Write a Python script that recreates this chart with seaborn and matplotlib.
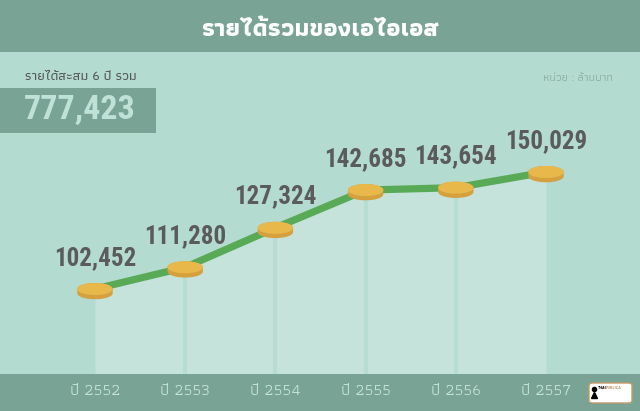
import matplotlib
matplotlib.use("Agg")
import numpy as np
import pandas as pd
import seaborn as sns
import matplotlib.pyplot as plt
from matplotlib.path import Path
from matplotlib.patches import Rectangle, FancyBboxPatch

# ---------------- data ----------------
years = ["ปี 2552", "ปี 2553", "ปี 2554", "ปี 2555", "ปี 2556", "ปี 2557"]
revenue = [102452, 111280, 127324, 142685, 143654, 150029]
title = "รายได้รวมของเอไอเอส"
total_label = "รายได้สะสม 6 ปี รวม"
total_value = 777423
unit_label = "หน่วย : ล้านบาท"

df = pd.DataFrame({"idx": np.arange(len(years)), "year": years, "revenue": revenue})

# ---------------- style ----------------
BAND = "#78a395"
BG = "#b3dbcf"
FILL = "#c5e3da"
LINE = "#58aa57"
COIN_TOP = "#e8b84b"
COIN_SIDE = "#d5a03e"
LABEL = "#5b5b5b"
THAI = "Athiti"
NUM = "Roboto Condensed"

sns.set_theme(style="white")
plt.rcParams["font.family"] = [THAI, "DejaVu Sans"]

W, H = 640, 411
fig = plt.figure(figsize=(W / 100, H / 100), dpi=100)
fig.patch.set_facecolor(BG)
ax = fig.add_axes([0, 0, 1, 1])
ax.set_facecolor(BG)
ax.axis("off")

fx = lambda px: px / W
fy = lambda py: 1 - py / H

# layout: first point at px (95, 289), step 90.2 px, 0.0024592 px per unit
x0_px, step_px = 95.0, 90.2
y0_px, k = 289.0, 117.0 / 47577.0
ax.set_xlim(-x0_px / step_px, (W - x0_px) / step_px)
ybase = min(revenue)
ax.set_ylim(ybase - (H - y0_px) / k, ybase + y0_px / k)
ymin = ax.get_ylim()[0]

# area under the line
ax.fill_between(df["idx"], df["revenue"], ymin, color=FILL, lw=0, zorder=1)
ax.vlines(df["idx"].iloc[1:-1], ymin, df["revenue"].iloc[1:-1], color="#b7dcd2", lw=3, zorder=1.5)

sns.lineplot(data=df, x="idx", y="revenue", color=LINE, lw=5.2, ax=ax, zorder=3,
             solid_capstyle="round", solid_joinstyle="round", legend=False)

# coin markers
t1 = np.linspace(np.pi, 2 * np.pi, 40)
t2 = np.linspace(0, np.pi, 40)
ry, th = 0.34, 0.24
side_v = np.vstack([[[-1, 0]],
                    np.column_stack([np.cos(t1), -th + ry * np.sin(t1)]),
                    [[1, 0]],
                    np.column_stack([np.cos(t2), ry * np.sin(t2)])])
side_path = Path(side_v)
tt = np.linspace(0, 2 * np.pi, 80)
top_path = Path(np.column_stack([np.cos(tt), ry * np.sin(tt)]))
sns.scatterplot(data=df, x="idx", y="revenue", marker=side_path, s=650, color=COIN_SIDE,
                edgecolor="none", ax=ax, zorder=4, legend=False)
sns.scatterplot(data=df, x="idx", y="revenue", marker=top_path, s=650, color=COIN_TOP,
                edgecolor="none", ax=ax, zorder=5, legend=False)
ax.set_xlabel("")
ax.set_ylabel("")

for i, v in zip(df["idx"], df["revenue"]):
    ax.annotate(f"{v:,}", (i, v), xytext=(0, 22.5), textcoords="offset points",
                ha="center", va="center", fontsize=18, fontweight="bold",
                family=NUM, color=LABEL, zorder=6)

# bands
ax.add_patch(Rectangle((0, fy(52)), 1, 52 / H, transform=ax.transAxes, color=BAND, lw=0, zorder=10))
ax.add_patch(Rectangle((0, 0), 1, fy(374), transform=ax.transAxes, color=BAND, lw=0, zorder=10))
ax.add_patch(Rectangle((0, fy(133)), fx(156), 45 / H, transform=ax.transAxes, color=BAND, lw=0, zorder=10))

ax.text(0.5, fy(30), title, transform=ax.transAxes, ha="center", va="center",
        fontsize=18, fontweight="bold", color="white", zorder=11)
ax.text(fx(25), fy(77), total_label, transform=ax.transAxes, ha="left", va="center",
        fontsize=10, fontweight="medium", color="#555555", zorder=11)
ax.text(fx(24), fy(110), f"{total_value:,}", transform=ax.transAxes, ha="left", va="center",
        fontsize=24.5, fontweight="bold", family=NUM, color="#bfe1d7", zorder=11)
ax.text(fx(613), fy(78), unit_label, transform=ax.transAxes, ha="right", va="center",
        fontsize=8.5, color="#8aa99f", zorder=11)

xt = ax.get_xaxis_transform()
for i, lab in zip(df["idx"], df["year"]):
    ax.text(i, fy(391), lab, transform=xt, ha="center", va="center",
            fontsize=12, color="#c6e4da", zorder=11)

# logo
ax.add_patch(FancyBboxPatch((fx(589), fy(403)), fx(43), 20 / H, transform=ax.transAxes,
                            boxstyle="round,pad=0,rounding_size=0.006", facecolor="white",
                            edgecolor="#c49a6c", lw=1, zorder=12))
ax.plot([fx(594)], [fy(389)], transform=ax.transAxes, marker="o", ms=3, color="black", zorder=13)
ax.plot([fx(594)], [fy(395)], transform=ax.transAxes, marker="^", ms=4, color="black", zorder=13)
ax.text(fx(598), fy(388), "THAI", transform=ax.transAxes, ha="left", va="center",
        fontsize=3.2, fontweight="bold", family=NUM, color="black", zorder=13)
ax.text(fx(606), fy(388), "PUBLICA", transform=ax.transAxes, ha="left", va="center",
        fontsize=3.2, fontweight="bold", family=NUM, color="#c49a6c", zorder=13)

fig.savefig("out.png", dpi=100, facecolor=BG)
